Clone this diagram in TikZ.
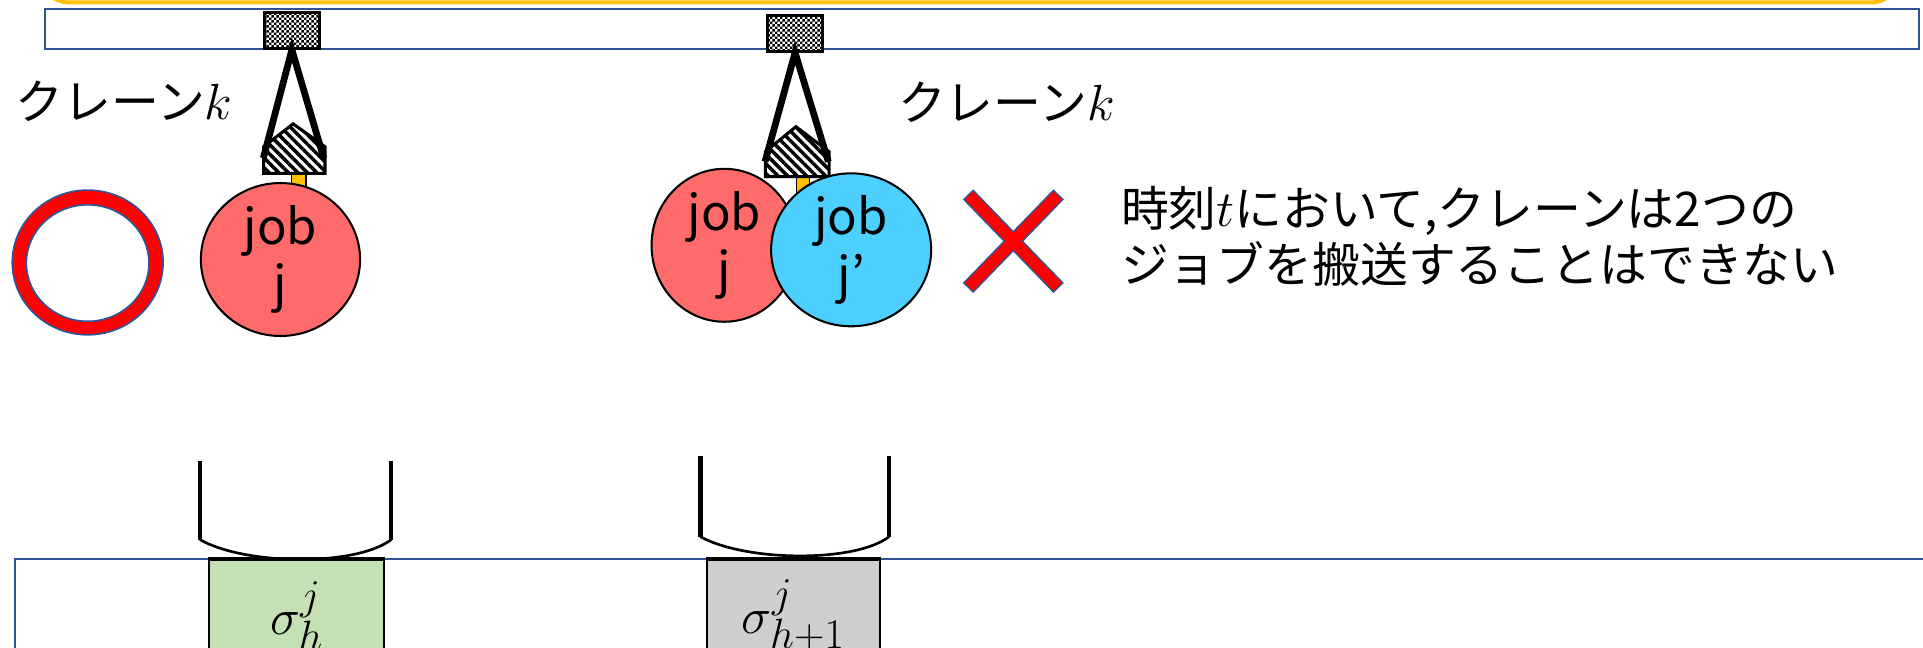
\documentclass[tikz,border=0pt]{standalone}
\usepackage{fontspec}
\setmainfont{Noto Sans CJK JP}
\usepackage{xcolor}
\usetikzlibrary{shapes.geometric,patterns,patterns.meta}
\definecolor{krNaranja}{RGB}{255,192,0}
\definecolor{krAzul}{RGB}{47,85,151}
\definecolor{krRojo}{RGB}{255,0,0}
\definecolor{krJobA}{RGB}{255,107,107}
\definecolor{krJobB}{RGB}{77,208,255}
\definecolor{krVerde}{RGB}{197,224,180}
\definecolor{krGris}{RGB}{208,206,206}

% fine checker for the trolleys
\pgfdeclarepatternformonly{tablero}{\pgfpointorigin}{\pgfqpoint{2.4pt}{2.4pt}}{\pgfqpoint{2.4pt}{2.4pt}}{%
  \pgfpathrectangle{\pgfpointorigin}{\pgfqpoint{1.2pt}{1.2pt}}%
  \pgfpathrectangle{\pgfqpoint{1.2pt}{1.2pt}}{\pgfqpoint{1.2pt}{1.2pt}}%
  \pgfusepath{fill}}

\begin{document}
\begin{tikzpicture}[x=0.6pt, y=-0.6pt,
     riel/.style={draw=krAzul, line width=0.9pt, fill=white},
     carro/.style={rectangle, draw=black, line width=1.5pt, fill=white,
                   postaction={pattern=tablero},
                   minimum width=26.8pt, minimum height=17.6pt, inner sep=0pt},
     gancho/.style={draw=black, line width=1.5pt, fill=white,
                    postaction={pattern={Lines[angle=-45,distance=3.3pt,line width=1.7pt]}}},
     cable/.style={line width=3.3pt, line join=miter},
     barra/.style={draw=black, line width=0.6pt, fill=krNaranja},
     job/.style={ellipse, draw=black, line width=1pt, inner sep=0pt,
                 align=center, font=\fontsize{24}{28}\selectfont},
     txt/.style={inner sep=0pt, font=\fontsize{23.4}{27.4}\selectfont},
     cubo/.style={line width=2.2pt},
     fondo/.style={line width=1.3pt},
     caja/.style={rectangle, draw=black, line width=1pt, inner sep=0pt,
                  minimum height=54pt, font=\fontsize{31}{31}\selectfont}]
    \useasboundingbox (0,0) rectangle (1568,528);
    \clip (0,0) rectangle (1568,528);

    % frame above and the rail
    \draw[krNaranja, line width=2pt, rounded corners=14pt] (33,-60) rectangle (1549,2);
    \draw[riel] (36.4,7.3) rectangle (1565,40);

    % crane at stage h
    \node[carro] (carroA) at (238,24.7) {};
    \draw[barra] (237.5,141) rectangle (249.5,168);
    \draw[gancho] (215,141.4) -- (215,119.6) -- (239,101) -- (265,119.6) -- (265,141.4) -- cycle;
    \coordinate (ganchoAl) at (214.7,129);
    \coordinate (ganchoAr) at (264,129);
    \draw[cable] (ganchoAl) -- (carroA.south) -- (ganchoAr);
    \node[job, fill=krJobA, minimum width=77.9pt, minimum height=69.6pt] (jobA) at (228.7,211.6) {job\\j};

    % crane at stage h+1
    \node[carro] (carroB) at (648.3,27.1) {};
    \draw[barra] (649.6,144) rectangle (660,168);
    \draw[gancho] (624,144) -- (624,123.7) -- (649,103.3) -- (676,123.7) -- (676,144) -- cycle;
    \coordinate (ganchoBl) at (623.8,131.8);
    \coordinate (ganchoBr) at (675.4,131.8);
    \draw[cable] (ganchoBl) -- (carroB.south) -- (ganchoBr);
    \node[job, fill=krJobA, minimum width=71.2pt, minimum height=69.8pt] (jobB) at (590.6,200) {job\\j};
    \node[job, fill=krJobB, minimum width=78.3pt, minimum height=70.9pt] (jobC) at (694,203.7) {job\\j’};

    % labels
    \node[txt, anchor=base west] (gruaA) at (12.7,97.5) {クレーン$k$};
    \node[txt, anchor=base west] (gruaB) at (732,98.5) {クレーン$k$};
    \node[txt, anchor=west, align=left] (nota) at (913.8,193)
      {時刻$t$において,クレーンは2つの\\ジョブを搬送することはできない};

    % ok / ng marks
    \draw[draw=krAzul, fill=krRojo, line width=0.8pt] (71.5,214) ellipse [x radius=61.5, y radius=59];
    \draw[draw=krAzul, fill=white, line width=0.8pt] (71.5,214.5) ellipse [x radius=50, y radius=47.5];
    \draw[krAzul, line width=7.1pt] (789.3,158.5) -- (863.2,234.8);
    \draw[krAzul, line width=7.1pt] (863.2,158.5) -- (789.3,234.8);
    \draw[krRojo, line width=5.6pt, shorten <=0.7pt, shorten >=0.7pt] (789.3,158.5) -- (863.2,234.8);
    \draw[krRojo, line width=5.6pt, shorten <=0.7pt, shorten >=0.7pt] (863.2,158.5) -- (789.3,234.8);

    % floor with the two stages
    \draw[riel] (12,456) rectangle (1580,560);
    \node[caja, fill=krVerde, minimum width=85.5pt] (etapaA) at (242,502) {$\sigma_h^j$};
    \node[caja, fill=krGris, minimum width=84.8pt] (etapaB) at (647,502) {$\sigma_{h+1}^j$};
    \draw[line width=2pt] (etapaA.north west) -- (etapaA.north east);
    \draw[line width=2pt] (etapaB.north west) -- (etapaB.north east);

    % buckets
    \draw[cubo] (163,376) -- (163,440);
    \draw[cubo] (319,376) -- (319,440);
    \draw[fondo] (163,440) .. controls (200,461) and (290,462) .. (319,440);
    \draw[cubo] (571,372) -- (571,437.6);
    \draw[cubo] (725,372) -- (725,437.6);
    \draw[fondo] (571,437.6) .. controls (608,458) and (697,459) .. (725,437.6);
  \end{tikzpicture}
\end{document}
